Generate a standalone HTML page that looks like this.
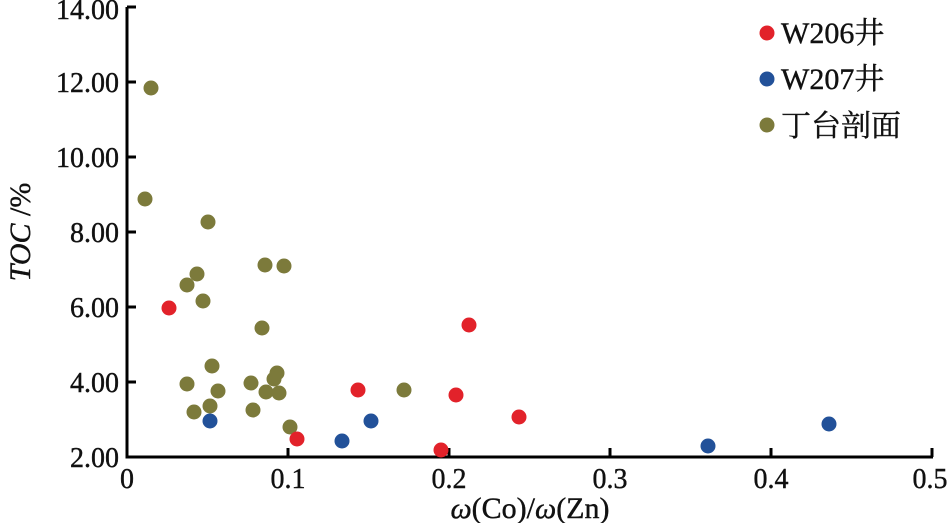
<!DOCTYPE html><html><head><style>body{margin:0;background:#fff}svg text{font-family:"Liberation Serif","Noto Serif CJK SC",serif;fill:#111;stroke:#111;stroke-width:0.4}</style></head><body>
<svg width="951" height="523" xmlns="http://www.w3.org/2000/svg">
<g stroke="#000" stroke-width="3" fill="none">
<path d="M127,7 V457 H933"/>
<path d="M127,82 h9 M127,157 h9 M127,232 h9 M127,307 h9 M127,382 h9 M127,7 h9"/>
<path d="M288,457 v-9 M449,457 v-9 M610,457 v-9 M771,457 v-9 M932,457 v-9"/>
</g>
<g font-size="28" text-anchor="end">
<text x="119" y="467">2.00</text><text x="119" y="392">4.00</text><text x="119" y="317">6.00</text><text x="119" y="242">8.00</text><text x="119" y="167">10.00</text><text x="119" y="92">12.00</text><text x="119" y="19">14.00</text>
</g>
<g font-size="28" text-anchor="middle">
<text x="127" y="488">0</text><text x="288" y="488">0.1</text><text x="449" y="488">0.2</text><text x="610" y="488">0.3</text><text x="771" y="488">0.4</text><text x="930" y="488">0.5</text>
<text x="530" y="518" font-size="30"><tspan font-style="italic">ω</tspan>(Co)/<tspan font-style="italic">ω</tspan>(Zn)</text>
<text transform="translate(30,232) rotate(-90)" font-size="30"><tspan font-style="italic">TOC</tspan> /%</text>
</g>
<g fill="#7c7a3b">
<circle cx="151" cy="88" r="7.5"/><circle cx="145" cy="199" r="7.5"/><circle cx="208" cy="222" r="7.5"/><circle cx="265" cy="265" r="7.5"/><circle cx="284" cy="266" r="7.5"/><circle cx="197" cy="274" r="7.5"/><circle cx="187" cy="285" r="7.5"/><circle cx="203" cy="301" r="7.5"/><circle cx="262" cy="328" r="7.5"/><circle cx="212" cy="366" r="7.5"/><circle cx="187" cy="384" r="7.5"/><circle cx="277" cy="373" r="7.5"/><circle cx="274" cy="379" r="7.5"/><circle cx="251" cy="383" r="7.5"/><circle cx="266" cy="392" r="7.5"/><circle cx="279" cy="393" r="7.5"/><circle cx="218" cy="391" r="7.5"/><circle cx="404" cy="390" r="7.5"/><circle cx="210" cy="406" r="7.5"/><circle cx="194" cy="412" r="7.5"/><circle cx="253" cy="410" r="7.5"/><circle cx="290" cy="427" r="7.5"/>
<circle cx="767" cy="125" r="7.5"/>
</g>
<g fill="#e2222a">
<circle cx="169" cy="308" r="7.5"/><circle cx="297" cy="439" r="7.5"/><circle cx="358" cy="390" r="7.5"/><circle cx="441" cy="450" r="7.5"/><circle cx="456" cy="395" r="7.5"/><circle cx="469" cy="325" r="7.5"/><circle cx="519" cy="417" r="7.5"/>
<circle cx="767" cy="33" r="7.5"/>
</g>
<g fill="#225199">
<circle cx="210" cy="421" r="7.5"/><circle cx="342" cy="441" r="7.5"/><circle cx="371" cy="421" r="7.5"/><circle cx="708" cy="446" r="7.5"/><circle cx="829" cy="424" r="7.5"/>
<circle cx="767" cy="79" r="7.5"/>
</g>
<g font-size="30">
<text x="781" y="43">W206井</text><text x="781" y="89">W207井</text><text x="781" y="136">丁台剖面</text>
</g>
</svg></body></html>
